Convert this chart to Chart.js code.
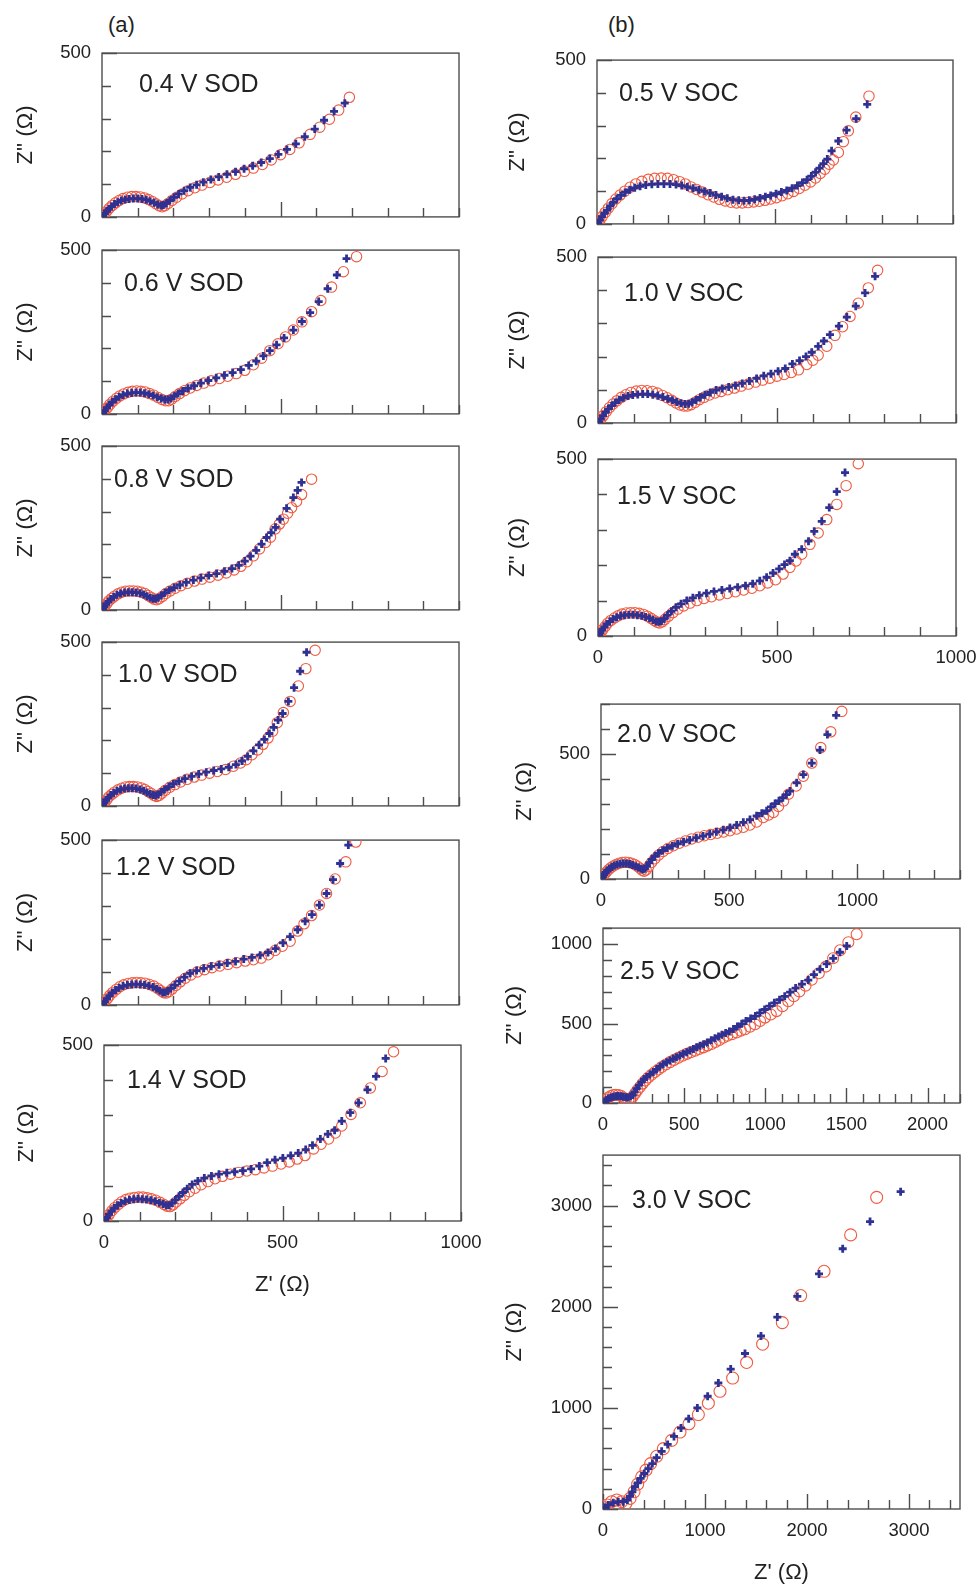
<!DOCTYPE html>
<html>
<head>
<meta charset="utf-8">
<script src="https://cdn.jsdelivr.net/npm/chart.js@4.4.1/dist/chart.umd.min.js"></script>
<style>
  body { margin: 0; background: #fff; }
  #fig { position: relative; width: 979px; height: 1585px; font-family: 'Liberation Sans', Arial, sans-serif; color: #222; }
  canvas { position: absolute; }
  .lbl { position: absolute; font-size: 25px; line-height: 24px; white-space: nowrap; }
  .part { position: absolute; font-size: 22px; line-height: 20px; }
</style>
</head>
<body>
<div id="fig"></div>
<script>
// Z' (x) / Z'' (y) pairs, ohm
// blue crosses = measured, red circles = fit
const sod04_exp = [[3,2],[8,10],[14,18],[20,25],[27,32],[35,39],[44,45],[54,50],[65,53],[76,55],[88,56],[100,56],[112,55],[124,52],[135,48],[146,43],[156,38],[165,35],[172,36],[180,41],[190,50],[202,60],[215,70],[230,80],[247,90],[265,98],[284,106],[305,114],[327,122],[350,130],[374,138],[398,147],[422,156],[446,166],[470,178],[494,191],[518,206],[543,223],[568,245],[596,268],[622,295],[650,322],[680,347]];
const sod04_fit = [[3,1],[8,9],[14,18],[21,27],[29,35],[38,43],[48,50],[59,56],[71,60],[83,62],[95,62],[107,61],[119,58],[130,53],[141,47],[151,40],[160,34],[168,31],[176,34],[185,41],[196,50],[209,60],[224,70],[241,80],[260,89],[280,97],[302,105],[325,113],[349,121],[374,130],[399,139],[424,149],[449,160],[474,174],[500,190],[526,206],[552,226],[583,252],[610,274],[637,298],[663,326],[693,365]];

const sod06_exp = [[3,2],[8,10],[14,19],[21,28],[29,37],[38,45],[48,52],[59,58],[71,62],[83,64],[95,65],[107,65],[119,63],[131,60],[143,56],[155,51],[166,47],[176,44],[185,44],[193,47],[202,54],[213,62],[226,70],[241,78],[258,86],[277,94],[298,102],[320,110],[343,118],[366,126],[389,135],[411,148],[432,161],[452,177],[470,193],[489,211],[510,232],[536,256],[560,282],[583,309],[607,343],[632,382],[658,424],[685,474]];
const sod06_fit = [[3,1],[8,9],[15,19],[22,29],[30,38],[40,47],[50,55],[61,61],[73,66],[85,69],[97,70],[109,69],[121,67],[133,62],[145,57],[157,50],[168,44],[178,40],[187,40],[195,45],[205,53],[217,62],[231,71],[247,79],[265,87],[285,94],[306,101],[329,108],[352,115],[376,123],[400,133],[424,150],[447,170],[470,193],[493,214],[514,235],[536,256],[560,281],[587,312],[613,346],[643,387],[676,434],[713,480]];

const sod08_exp = [[3,2],[7,10],[12,18],[18,26],[25,33],[33,40],[42,46],[52,50],[63,53],[74,54],[85,54],[96,53],[107,51],[117,47],[126,42],[135,37],[143,34],[150,34],[157,37],[166,44],[176,52],[188,60],[202,68],[218,76],[236,84],[256,91],[277,98],[299,105],[321,111],[343,118],[364,126],[383,136],[400,149],[416,164],[432,182],[447,201],[461,221],[474,236],[486,252],[499,277],[517,310],[536,343],[548,365],[559,389]];
const sod08_fit = [[3,1],[7,9],[13,18],[19,27],[27,35],[35,42],[45,49],[55,54],[66,57],[77,58],[88,58],[99,57],[110,54],[120,50],[129,44],[138,38],[146,33],[153,31],[160,34],[169,41],[179,50],[191,58],[205,66],[221,74],[239,81],[259,88],[280,94],[302,100],[325,106],[348,113],[370,122],[389,133],[406,147],[424,165],[441,186],[458,206],[472,222],[485,247],[497,262],[508,277],[520,295],[531,312],[545,331],[559,352],[587,399]];

const sod10_exp = [[3,2],[7,10],[12,18],[18,26],[25,33],[33,40],[42,46],[52,50],[63,53],[74,54],[85,54],[96,53],[107,50],[117,46],[126,41],[135,36],[143,33],[150,32],[157,35],[165,42],[175,50],[187,59],[200,67],[215,75],[232,83],[251,90],[271,97],[292,103],[313,108],[334,113],[355,118],[375,126],[392,137],[408,151],[424,168],[440,186],[455,203],[469,221],[481,240],[493,262],[506,282],[522,319],[538,361],[555,411],[573,469]];
const sod10_fit = [[3,1],[7,9],[13,18],[19,27],[27,35],[35,42],[45,49],[55,54],[66,58],[77,59],[88,59],[99,58],[110,55],[120,50],[129,44],[138,38],[146,32],[153,29],[160,32],[168,39],[178,48],[190,57],[204,65],[220,73],[238,81],[258,88],[279,94],[301,100],[323,105],[346,111],[368,121],[388,131],[404,141],[420,156],[436,171],[451,188],[465,207],[478,228],[491,254],[508,285],[527,319],[550,366],[571,419],[597,475]];

const sod12_exp = [[3,2],[8,10],[14,19],[21,28],[29,37],[38,45],[48,52],[59,57],[71,60],[83,62],[95,63],[107,62],[119,61],[131,58],[143,54],[153,49],[162,43],[170,38],[177,38],[184,42],[193,50],[204,60],[217,72],[231,84],[247,96],[265,104],[285,111],[306,117],[328,122],[351,127],[374,132],[397,139],[420,144],[443,151],[465,159],[486,171],[507,188],[527,207],[548,228],[569,254],[588,274],[609,303],[629,338],[647,380],[667,429],[690,485]];
const sod12_fit = [[3,1],[8,9],[15,19],[22,29],[30,38],[40,47],[50,55],[61,61],[73,65],[85,67],[97,68],[109,67],[121,66],[133,62],[145,57],[156,50],[165,43],[173,37],[180,36],[187,40],[196,48],[207,59],[219,70],[233,81],[249,91],[267,100],[287,107],[308,113],[330,118],[353,123],[377,128],[401,133],[424,137],[446,142],[466,152],[485,165],[505,178],[527,193],[548,224],[566,246],[587,271],[609,303],[629,338],[653,382],[683,434],[711,494]];

const sod14_exp = [[3,2],[8,10],[14,19],[21,28],[29,37],[38,45],[48,51],[59,56],[71,60],[83,62],[95,63],[107,62],[119,61],[131,59],[143,56],[155,52],[166,48],[175,45],[183,45],[191,51],[200,60],[210,70],[221,81],[233,92],[247,104],[263,114],[281,122],[301,128],[322,133],[344,137],[366,140],[389,143],[412,148],[435,156],[457,166],[479,174],[501,179],[523,186],[544,193],[565,203],[584,215],[606,233],[627,247],[646,258],[666,284],[690,308],[713,336],[738,373],[762,411],[789,462]];
const sod14_fit = [[3,1],[8,9],[15,19],[22,29],[30,38],[40,47],[50,55],[61,61],[73,65],[85,67],[97,68],[109,68],[121,66],[133,63],[145,59],[157,53],[168,47],[177,42],[185,41],[193,46],[202,54],[213,63],[225,73],[239,83],[255,93],[272,103],[291,112],[311,120],[332,127],[354,133],[377,138],[400,142],[424,146],[448,151],[472,156],[496,162],[519,168],[541,176],[563,186],[587,205],[608,218],[629,233],[648,250],[666,270],[692,303],[718,336],[746,378],[779,425],[811,481]];

const soc05_exp = [[3,2],[8,12],[14,22],[21,32],[29,42],[37,55],[46,66],[56,77],[67,87],[79,96],[92,104],[106,110],[121,115],[137,119],[154,121],[171,122],[188,122],[205,122],[222,120],[238,117],[254,113],[270,109],[286,104],[302,99],[318,94],[334,88],[350,83],[366,78],[382,74],[398,72],[413,71],[428,72],[443,75],[458,79],[473,83],[488,87],[503,92],[518,97],[533,102],[548,109],[563,117],[577,126],[590,135],[602,146],[614,158],[625,170],[636,184],[647,198],[659,223],[678,253],[701,286],[728,321],[759,365]];
const soc05_fit = [[3,1],[8,11],[15,23],[23,35],[32,48],[42,62],[53,76],[65,88],[78,100],[93,112],[109,122],[126,130],[144,136],[162,139],[180,140],[198,139],[215,135],[232,129],[248,122],[264,113],[280,105],[296,97],[312,89],[328,82],[344,75],[360,70],[376,66],[392,64],[408,64],[424,65],[440,67],[456,69],[472,72],[488,76],[504,80],[520,86],[536,92],[552,99],[568,108],[584,118],[600,128],[614,140],[627,154],[640,167],[652,182],[664,195],[678,218],[692,251],[706,284],[727,326],[764,390]];

const soc10_exp = [[3,2],[8,12],[14,22],[21,32],[29,42],[38,52],[48,61],[59,69],[71,76],[84,81],[97,84],[111,86],[125,87],[139,87],[153,85],[167,82],[181,78],[195,73],[208,68],[220,63],[232,59],[243,57],[253,58],[263,62],[274,69],[286,77],[299,85],[314,92],[330,99],[347,104],[365,108],[384,113],[403,119],[423,126],[443,134],[463,142],[483,148],[503,156],[523,164],[543,178],[563,188],[581,200],[597,213],[615,231],[631,247],[648,266],[673,292],[695,319],[720,352],[746,392],[774,442]];
const soc10_fit = [[3,1],[8,11],[15,22],[23,34],[32,46],[42,57],[53,67],[65,77],[78,85],[92,92],[107,96],[122,98],[137,97],[152,95],[166,90],[180,83],[193,76],[206,68],[218,60],[229,54],[240,51],[250,51],[260,55],[271,62],[283,70],[296,77],[311,84],[327,90],[344,95],[362,100],[381,105],[400,111],[420,117],[440,123],[460,129],[480,135],[500,141],[520,146],[540,152],[560,160],[583,176],[600,189],[615,204],[639,231],[662,264],[683,290],[704,321],[727,361],[755,407],[781,460]];

const soc15_exp = [[3,2],[7,10],[12,18],[18,26],[25,34],[33,41],[42,48],[52,53],[63,57],[74,59],[86,60],[98,60],[110,59],[122,57],[133,54],[144,50],[154,45],[163,41],[170,40],[177,42],[185,49],[194,59],[205,70],[218,81],[232,91],[248,100],[265,108],[283,115],[303,121],[324,126],[346,130],[368,134],[390,138],[412,142],[432,148],[452,156],[471,166],[489,178],[506,190],[521,202],[536,213],[550,231],[569,245],[588,268],[604,296],[625,324],[646,363],[667,408],[690,462]];
const soc15_fit = [[3,1],[8,9],[13,18],[20,27],[27,36],[36,44],[46,51],[56,57],[67,62],[79,65],[91,66],[103,66],[115,64],[127,61],[138,56],[148,50],[157,44],[165,39],[172,37],[179,40],[187,47],[197,56],[209,66],[223,76],[239,85],[257,93],[276,100],[296,106],[317,111],[339,116],[361,120],[384,125],[407,130],[430,135],[452,142],[474,150],[496,159],[517,175],[536,194],[553,212],[569,231],[592,259],[615,291],[639,329],[667,372],[693,425],[727,487]];

const soc20_exp = [[3,2],[7,10],[12,18],[18,26],[25,34],[33,41],[42,48],[52,54],[63,58],[75,61],[87,62],[99,62],[111,60],[123,56],[135,51],[146,46],[156,41],[164,38],[171,41],[179,52],[188,65],[198,78],[210,91],[224,103],[240,114],[258,124],[278,133],[299,141],[322,149],[346,156],[372,165],[398,172],[424,180],[450,189],[477,197],[503,206],[529,216],[555,227],[581,238],[607,253],[627,263],[646,273],[663,289],[679,302],[694,313],[709,325],[723,338],[737,352],[763,385],[789,418],[822,464],[854,516],[883,578],[917,655]];
const soc20_fit = [[3,1],[8,9],[14,19],[21,28],[29,37],[38,45],[48,52],[59,58],[71,63],[83,66],[95,67],[107,66],[119,63],[131,58],[142,51],[152,43],[160,35],[168,31],[176,36],[186,50],[197,66],[210,81],[225,96],[242,110],[261,122],[282,133],[305,143],[329,152],[353,160],[378,167],[403,173],[428,178],[453,183],[478,188],[503,193],[529,200],[555,207],[581,216],[607,228],[633,246],[654,256],[672,266],[692,290],[712,312],[731,339],[761,372],[789,411],[822,464],[857,526],[896,589],[939,671]];

const soc25_exp = [[12,8],[22,20],[33,29],[48,35],[64,39],[79,42],[94,44],[110,42],[125,39],[140,36],[156,35],[170,42],[183,50],[195,70],[207,91],[222,112],[238,133],[253,150],[269,164],[289,180],[310,195],[330,212],[351,230],[371,244],[392,257],[412,268],[433,278],[453,288],[474,298],[495,309],[516,319],[536,330],[557,340],[577,350],[598,360],[620,370],[643,381],[667,395],[690,408],[712,419],[733,429],[756,440],[779,450],[804,465],[828,481],[855,498],[881,516],[910,531],[939,547],[967,567],[996,588],[1026,609],[1056,630],[1088,650],[1120,671],[1153,697],[1187,723],[1226,748],[1265,773],[1300,808],[1337,841],[1378,875],[1419,909],[1460,948],[1502,988]];
const soc25_fit = [[12,8],[22,22],[33,35],[48,44],[64,50],[79,52],[94,50],[110,46],[125,35],[140,27],[156,19],[170,25],[183,39],[197,60],[212,81],[228,101],[244,122],[261,141],[279,160],[299,178],[320,195],[341,211],[362,226],[387,242],[413,257],[438,271],[464,284],[490,297],[516,309],[541,319],[567,329],[592,340],[618,350],[643,361],[669,371],[693,384],[717,396],[741,410],[766,423],[795,433],[823,443],[849,454],[875,464],[906,480],[937,495],[968,516],[998,537],[1034,557],[1070,578],[1106,609],[1142,640],[1176,671],[1210,702],[1248,738],[1286,775],[1330,816],[1374,858],[1418,910],[1461,961],[1512,1011],[1563,1061]];

const soc30_exp = [[20,16],[52,39],[101,62],[150,72],[199,72],[239,89],[265,128],[288,170],[314,220],[340,259],[369,302],[405,351],[444,400],[484,449],[526,508],[575,570],[634,639],[696,718],[765,800],[840,892],[925,1000],[1026,1115],[1131,1246],[1252,1384],[1392,1538],[1549,1711],[1709,1898],[1905,2102],[2118,2325],[2350,2574],[2618,2843],[2918,3138]];
const soc30_fit = [[13,13],[42,39],[85,72],[134,89],[183,72],[225,56],[265,105],[304,170],[340,246],[379,318],[422,384],[467,449],[526,521],[592,597],[673,679],[755,761],[843,843],[935,934],[1033,1046],[1147,1164],[1271,1295],[1408,1449],[1565,1630],[1758,1843],[1938,2111],[2167,2351],[2428,2711],[2683,3082]];

// tick labels
const xLabels1000 = [0, 500, 1000];
const xLabels2200 = [0, 500, 1000, 1500, 2000];
const xLabels3500 = [0, 1000, 2000, 3000];
const yLabels500 = [0, 500];
const yLabels1100 = [0, 500, 1000];
const yLabels3500 = [0, 1000, 2000, 3000];
const noLabels = [];

const BLUE = '#2e3192';
const RED = '#ef5a40';
const INK = '#222';
const FONT = "'Liberation Sans', Arial, sans-serif";

// box = [left, top, right, bottom] of plot area in page px
const panels = [
  { label: '0.4 V SOD', exp: sod04_exp, fit: sod04_fit, box: [102, 51, 459, 229], xMax: 1000, xStep: 100, xLabels: noLabels, xMajor: [500], yMax: 500, yStep: 100, yLabels: yLabels500, lx: 139, ly: 83, padL: 89 },
  { label: '0.6 V SOD', exp: sod06_exp, fit: sod06_fit, box: [102, 248, 459, 426], xMax: 1000, xStep: 100, xLabels: noLabels, xMajor: [500], yMax: 500, yStep: 100, yLabels: yLabels500, lx: 124, ly: 282, padL: 89 },
  { label: '0.8 V SOD', exp: sod08_exp, fit: sod08_fit, box: [102, 444, 459, 622], xMax: 1000, xStep: 100, xLabels: noLabels, xMajor: [500], yMax: 500, yStep: 100, yLabels: yLabels500, lx: 114, ly: 478, padL: 89 },
  { label: '1.0 V SOD', exp: sod10_exp, fit: sod10_fit, box: [102, 640, 459, 818], xMax: 1000, xStep: 100, xLabels: noLabels, xMajor: [500], yMax: 500, yStep: 100, yLabels: yLabels500, lx: 118, ly: 673, padL: 89 },
  { label: '1.2 V SOD', exp: sod12_exp, fit: sod12_fit, box: [102, 838, 459, 1017], xMax: 1000, xStep: 100, xLabels: noLabels, xMajor: [500], yMax: 500, yStep: 100, yLabels: yLabels500, lx: 116, ly: 866, padL: 89 },
  { label: '1.4 V SOD', exp: sod14_exp, fit: sod14_fit, box: [104, 1043, 461, 1221], xMax: 1000, xStep: 100, xLabels: xLabels1000, xMajor: [500], yMax: 500, yStep: 100, yLabels: yLabels500, lx: 127, ly: 1079, padL: 90, xTitle: true },
  { label: '0.5 V SOC', exp: soc05_exp, fit: soc05_fit, box: [597, 58, 953, 236], xMax: 1000, xStep: 100, xLabels: noLabels, xMajor: [500], yMax: 500, yStep: 100, yLabels: yLabels500, lx: 619, ly: 92, padL: 92 },
  { label: '1.0 V SOC', exp: soc10_exp, fit: soc10_fit, box: [598, 255, 956, 435], xMax: 1000, xStep: 100, xLabels: noLabels, xMajor: [500], yMax: 500, yStep: 100, yLabels: yLabels500, lx: 624, ly: 292, padL: 93 },
  { label: '1.5 V SOC', exp: soc15_exp, fit: soc15_fit, box: [598, 457, 956, 636], xMax: 1000, xStep: 100, xLabels: xLabels1000, xMajor: [500], yMax: 500, yStep: 100, yLabels: yLabels500, lx: 617, ly: 495, padL: 93 },
  { label: '2.0 V SOC', exp: soc20_exp, fit: soc20_fit, box: [601, 702, 960, 879], xMax: 1400, xStep: 100, xLabels: xLabels1000, xMajor: [500, 1000], yMax: 700, yStep: 100, yLabels: yLabels500, lx: 617, ly: 733, padL: 89 },
  { label: '2.5 V SOC', exp: soc25_exp, fit: soc25_fit, box: [603, 926, 960, 1103], xMax: 2200, xStep: 100, xLabels: xLabels2200, xMajor: xLabels2200, yMax: 1100, yStep: 100, yLabels: yLabels1100, lx: 620, ly: 970, padL: 101, r: 5.5 },
  { label: '3.0 V SOC', exp: soc30_exp, fit: soc30_fit, box: [603, 1153, 960, 1509], xMax: 3500, xStep: 200, xLabels: xLabels3500, xMajor: xLabels3500, yMax: 3500, yStep: 200, yLabels: yLabels3500, lx: 632, ly: 1199, padL: 101, xTitle: true, r: 6 }
];

// box outline plus inward tick marks, longer at the major values
const frame = {
  id: 'frame',
  beforeDatasetsDraw(chart, args, opts) {
    const { ctx, chartArea: a, scales: { x, y } } = chart;
    ctx.save();
    ctx.strokeStyle = '#4d4d4d';
    ctx.lineWidth = 1.4;
    ctx.strokeRect(a.left, a.top, a.right - a.left, a.bottom - a.top);
    ctx.beginPath();
    x.ticks.forEach(t => {
      const px = Math.round(x.getPixelForValue(t.value)) + 0.5;
      const len = opts.xMajor.includes(t.value) ? 15 : 9;
      ctx.moveTo(px, a.bottom);
      ctx.lineTo(px, a.bottom - len);
    });
    y.ticks.forEach(t => {
      const py = Math.round(y.getPixelForValue(t.value)) + 0.5;
      const len = opts.yMajor.includes(t.value) ? 15 : 9;
      ctx.moveTo(a.left, py);
      ctx.lineTo(a.left + len, py);
    });
    ctx.stroke();
    ctx.restore();
  }
};

const fig = document.getElementById('fig');

function addText(cls, text, left, centerY, half) {
  const d = document.createElement('div');
  d.className = cls;
  d.textContent = text;
  d.style.left = left + 'px';
  d.style.top = (centerY - half) + 'px';
  fig.appendChild(d);
  return d;
}

addText('part', '(a)', 108, 25, 10);
addText('part', '(b)', 608, 25, 10);

panels.forEach(p => {
  const [L, T, R, B] = p.box;
  const padT = 20, padR = 36;
  const padB = p.xTitle ? 77 : (p.xLabels.length ? 40 : 10);
  const cv = document.createElement('canvas');
  cv.width = R - L + p.padL + padR;
  cv.height = B - T + padT + padB;
  cv.style.left = (L - p.padL) + 'px';
  cv.style.top = (T - padT) + 'px';
  fig.appendChild(cv);

  const r = p.r || 5.2;
  new Chart(cv, {
    type: 'scatter',
    data: {
      datasets: [
        { label: 'measured', data: p.exp.map(([x, y]) => ({ x, y })), pointStyle: 'cross', radius: 4, borderWidth: 2.8, borderColor: BLUE, backgroundColor: BLUE },
        { label: 'fit', data: p.fit.map(([x, y]) => ({ x, y })), pointStyle: 'circle', radius: r, borderWidth: 1.1, borderColor: RED, backgroundColor: 'rgba(0,0,0,0)' }
      ]
    },
    options: {
      responsive: false,
      animation: false,
      devicePixelRatio: 1,
      layout: { padding: { top: padT, right: padR, left: 0, bottom: 0 } },
      plugins: {
        legend: { display: false },
        tooltip: { enabled: false },
        frame: { xMajor: p.xMajor, yMajor: p.yLabels.concat([500]) }
      },
      scales: {
        x: {
          type: 'linear',
          min: 0, max: p.xMax,
          grid: { display: false, drawTicks: false },
          border: { display: false },
          afterFit: s => { s.height = padB; },
          ticks: {
            stepSize: p.xStep, maxTicksLimit: 1000, autoSkip: false, maxRotation: 0, includeBounds: false,
            padding: 11, color: INK, font: { family: FONT, size: 18.5 },
            callback: v => (p.xLabels.includes(v) ? String(v) : '')
          },
          title: { display: !!p.xTitle, text: "Z' (Ω)", color: INK, font: { family: FONT, size: 22 }, padding: { top: 0, bottom: 0 } }
        },
        y: {
          type: 'linear',
          min: 0, max: p.yMax,
          grid: { display: false, drawTicks: false },
          border: { display: false },
          afterFit: s => { s.width = p.padL; },
          ticks: {
            stepSize: p.yStep, maxTicksLimit: 1000, autoSkip: false, includeBounds: false,
            padding: 11, color: INK, font: { family: FONT, size: 18.5 },
            callback: v => (p.yLabels.includes(v) ? String(v) : '')
          },
          title: { display: true, text: "Z'' (Ω)", color: INK, font: { family: FONT, size: 22 }, padding: { top: 0, bottom: 0 } }
        }
      }
    },
    plugins: [frame]
  });

  addText('lbl', p.label, p.lx, p.ly, 12);
});
</script>
</body>
</html>
